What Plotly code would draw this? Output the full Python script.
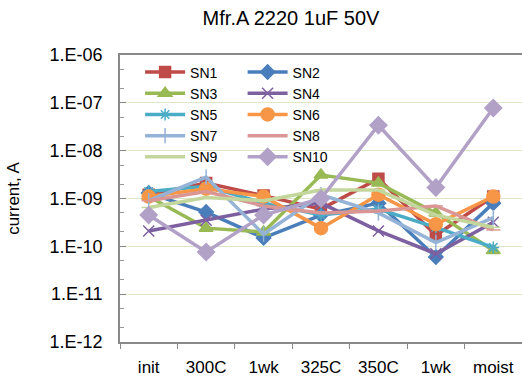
import plotly.graph_objects as go

# Leakage current per sample across the test sequence
stages = ["init", "300C", "1wk", "325C", "350C", "1wk", "moist"]

SN1 = [1.2e-9, 2.1e-9, 1.15e-9, 6.0e-10, 2.6e-9, 1.7e-10, 1.1e-9]
SN2 = [1.3e-9, 5.2e-10, 1.5e-10, 4.5e-10, 8.0e-10, 6.0e-11, 8.0e-10]
SN3 = [1.1e-9, 2.4e-10, 2.0e-10, 3.1e-9, 2.1e-9, 5.0e-10, 8.2e-11]
SN4 = [2.1e-10, 3.5e-10, 6.0e-10, 8.0e-10, 2.1e-10, 7.0e-11, 3.2e-10]
SN5 = [1.4e-9, 1.8e-9, 8.0e-10, 4.5e-10, 6.0e-10, 2.5e-10, 9.5e-11]
SN6 = [1.1e-9, 1.6e-9, 1.1e-9, 2.4e-10, 1.2e-9, 2.9e-10, 1.1e-9]
SN7 = [9.0e-10, 2.8e-9, 1.8e-10, 1.2e-9, 5.0e-10, 1.2e-10, 4.0e-10]
SN8 = [9.0e-10, 1.4e-9, 7.0e-10, 5.0e-10, 5.5e-10, 7.0e-10, 2.2e-10]
SN9 = [6.5e-10, 1.05e-9, 9.0e-10, 1.5e-9, 1.5e-9, 4.5e-10, 2.5e-10]
SN10 = [4.5e-10, 7.6e-11, 4.5e-10, 1.0e-9, 3.4e-8, 1.7e-9, 7.8e-8]

ytick_vals = [1e-12, 1e-11, 1e-10, 1e-9, 1e-8, 1e-7, 1e-6]
ytick_text = ["1.E-12", "1.E-11", "1.E-10", "1.E-09", "1.E-08", "1.E-07", "1.E-06"]

series = [
    ("SN1", SN1, "#BE4B48", "square", 11, "legend"),
    ("SN2", SN2, "#4A7EBB", "diamond", 11, "legend2"),
    ("SN3", SN3, "#98B954", "triangle-up", 12, "legend"),
    ("SN4", SN4, "#7D60A0", "x-thin-open", 11, "legend2"),
    ("SN5", SN5, "#4BACC6", "asterisk-open", 10, "legend"),
    ("SN6", SN6, "#F79646", "circle", 13, "legend2"),
    ("SN7", SN7, "#95B3D7", "line-ns-open", 11, "legend"),
    ("SN8", SN8, "#D99694", "line-ew-open", 10, "legend2"),
    ("SN9", SN9, "#C3D69B", "line-ew-open", 10, "legend"),
    ("SN10", SN10, "#B2A1C7", "diamond", 13, "legend2"),
]

x = list(range(len(stages)))

fig = go.Figure()
for name, vals, color, symbol, size, leg in series:
    fig.add_trace(go.Scatter(
        x=x, y=vals, name=name, mode="lines+markers",
        line=dict(color=color, width=3.5),
        marker=dict(symbol=symbol, size=size, color=color,
                    line=dict(color=color, width=1.5)),
        legend=leg,
    ))

font_family = "Liberation Sans, Arial, sans-serif"
legend_common = dict(
    bgcolor="rgba(0,0,0,0)", borderwidth=0,
    font=dict(family=font_family, size=14, color="#000"),
    itemwidth=40, tracegroupgap=0,
    xanchor="left", yanchor="top",
)

fig.update_layout(
    width=522, height=380,
    margin=dict(l=120, r=0, t=55, b=38),
    paper_bgcolor="white", plot_bgcolor="white",
    font=dict(family=font_family, color="#000"),
    title=dict(text="Mfr.A 2220 1uF 50V", xref="container", x=0.5575,
               y=0.953, xanchor="center", yanchor="middle",
               font=dict(size=20, family=font_family, color="#000")),
    showlegend=True,
    legend=dict(x=0.05, y=0.995, **legend_common),
    legend2=dict(x=0.305, y=0.995, **legend_common),
    xaxis=dict(
        range=[-0.5, 6.5], tickmode="array", tickvals=x, ticktext=stages,
        ticks="", showgrid=False, zeroline=False, ticklabelstandoff=9,
        showline=True, linecolor="#888888", linewidth=1.5, mirror=True,
        tickfont=dict(size=17, family=font_family, color="#000"),
        minor=dict(tickmode="array",
                   tickvals=[i - 0.5 for i in range(len(stages) + 1)],
                   ticks="outside", ticklen=5, tickcolor="#888888",
                   tickwidth=1, showgrid=False),
    ),
    yaxis=dict(
        type="log", range=[-12, -6], tickmode="array",
        tickvals=ytick_vals, ticktext=ytick_text,
        ticks="inside", ticklen=6, tickcolor="#888888",
        showgrid=True, gridcolor="#DDE6C6", gridwidth=1,
        showline=True, linecolor="#888888", linewidth=1.5,
        zeroline=False, ticklabelstandoff=12,
        tickfont=dict(size=18, family=font_family, color="#000"),
        minor=dict(ticks="inside", ticklen=4, tickcolor="#999999",
                   tickwidth=1, showgrid=False),
        title=dict(text="current, A", standoff=26,
                   font=dict(size=17, family=font_family, color="#000")),
        automargin=False,
    ),
)

fig.write_html("out.html")
